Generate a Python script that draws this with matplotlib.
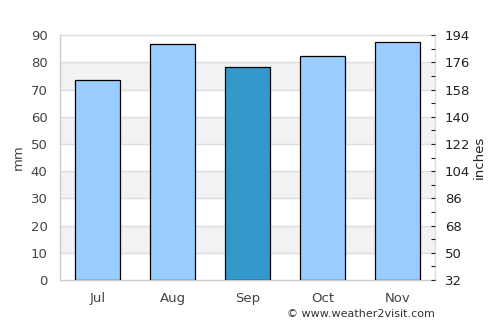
import matplotlib
matplotlib.use("Agg")
import matplotlib.pyplot as plt
import numpy as np

months = ["Jul", "Aug", "Sep", "Oct", "Nov"]
rain_mm = [73.4, 86.6, 78.1, 82.2, 87.3]
bar_colors = ["#99CCFF", "#99CCFF", "#3399CC", "#99CCFF", "#99CCFF"]
left_ticks = [0, 10, 20, 30, 40, 50, 60, 70, 80, 90]
right_ticks = [32, 50, 68, 86, 104, 122, 140, 158, 176, 194]

fig = plt.figure(figsize=(5, 3.25), dpi=100)
ax = fig.add_axes([0.12, 0.1385, 0.75, 0.7535])

x = np.arange(len(months))
ax.set_xlim(-0.5, len(months) - 0.5)
ax.set_ylim(0, 90)

for lo in [10, 30, 50, 70]:
    ax.axhspan(lo, lo + 10, color="#F2F2F2", zorder=0, lw=0)
for t in left_ticks[1:-1]:
    ax.axhline(t, color="#DDDDDD", lw=1, zorder=1)

ax.bar(x, rain_mm, width=0.6, color=bar_colors, edgecolor="black", linewidth=0.9, zorder=3)

ax.set_xticks(x)
ax.set_xticklabels(months)
ax.set_yticks(left_ticks)
ax.tick_params(axis="y", length=0, colors="#444444", labelsize=9.5, pad=9)
ax.tick_params(axis="x", length=0, colors="#444444", labelsize=9.5, pad=9)
for s in ax.spines.values():
    s.set_color("#DDDDDD")
    s.set_linewidth(1)
ax.spines["bottom"].set_color("#CCCCCC")
ax.spines["left"].set_color("#CCCCCC")
ax.set_ylabel("mm", color="#444444", fontsize=9.5, labelpad=4)

ax2 = ax.twinx()
ax2.set_ylim(32, 194)
ax2.set_yticks(right_ticks)
ax2.set_yticks([t + 9 for t in right_ticks[:-1]], minor=True)
ax2.tick_params(axis="y", which="both", direction="in", length=3, colors="#222222",
                labelsize=9.5, pad=7, width=0.8)
for s in ax2.spines.values():
    s.set_visible(False)
ax2.set_ylabel("inches", color="#222222", fontsize=9.5, labelpad=2)

fig.text(0.87, 0.035, "\u00a9 www.weather2visit.com", ha="right", va="center",
         fontsize=8, color="#333333")

fig.savefig("out.png", dpi=100)
